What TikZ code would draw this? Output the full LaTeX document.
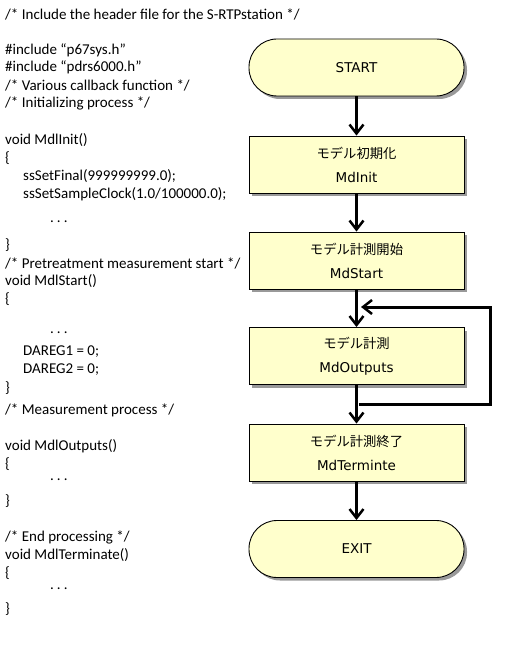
\documentclass[tikz,border=0pt]{standalone}
\usepackage{fontspec}
\setmainfont{Carlito}
\newfontfamily\jpfont{Noto Sans CJK JP}
\newfontfamily\lbfont{DejaVu Sans}
\usetikzlibrary{arrows.meta,shadows}
\definecolor{boxfill}{HTML}{FFFFCC}
\newcommand{\mydots}{.\kern3pt.\kern3pt.}
\tikzset{
  codeline/.style={anchor=west,inner sep=0pt,font=\fontsize{15}{17}\selectfont},
  procbox/.style={draw=black,line width=0.9pt,fill=boxfill,minimum width=215pt,minimum height=57pt,inner sep=0pt,
     drop shadow={shadow xshift=3pt,shadow yshift=-3pt,fill=black!40,opacity=1},align=center},
  termbox/.style={procbox,rounded corners=28pt,font=\lbfont\fontsize{13.5}{16}\selectfont},
  flow/.style={line width=3pt,-{Straight Barb[length=9pt,width=14pt,line width=2.5pt]}},
}
\newcommand{\jpl}[1]{{\jpfont\fontsize{13.3}{15}\selectfont #1}}
\newcommand{\ltl}[1]{{\lbfont\fontsize{13.5}{16}\selectfont #1}}
\begin{document}
\begin{tikzpicture}[x=1pt,y=-1pt]
\useasboundingbox (0,0) rectangle (525,647);
% code text
\node[codeline] (c1) at (5,14) {/* Include the header file for the S-RTPstation */};
\node[codeline] (c2) at (5,50) {\#include “p67sys.h”};
\node[codeline] (c3) at (5,67) {\#include “pdrs6000.h”};
\node[codeline] (c4) at (5,85) {/* Various callback function */};
\node[codeline] (c5) at (5,103) {/* Initializing process */};
\node[codeline] (c6) at (5,140) {void MdlInit()};
\node[codeline] (c7) at (5,158) {\{};
\node[codeline] (c8) at (23,176) {ssSetFinal(999999999.0);};
\node[codeline] (c9) at (23,194) {ssSetSampleClock(1.0/100000.0);};
\node[codeline] (c10) at (50,222) {\mydots};
\node[codeline] (c11) at (5,245) {\}};
\node[codeline] (c12) at (5,263) {/* Pretreatment measurement start */};
\node[codeline] (c13) at (5,281) {void MdlStart()};
\node[codeline] (c14) at (5,299) {\{};
\node[codeline] (c15) at (50,333) {\mydots};
\node[codeline] (c16) at (23,352) {DAREG1 = 0;};
\node[codeline] (c17) at (23,370) {DAREG2 = 0;};
\node[codeline] (c18) at (5,388) {\}};
\node[codeline] (c19) at (5,410) {/* Measurement process */};
\node[codeline] (c20) at (5,446) {void MdlOutputs()};
\node[codeline] (c21) at (5,464) {\{};
\node[codeline] (c22) at (50,480) {\mydots};
\node[codeline] (c23) at (5,501) {\}};
\node[codeline] (c24) at (5,537) {/* End processing */};
\node[codeline] (c25) at (5,555) {void MdlTerminate()};
\node[codeline] (c26) at (5,573) {\{};
\node[codeline] (c27) at (50,589) {\mydots};
\node[codeline] (c28) at (5,609) {\}};
% flowchart
\node[termbox] (start) at (356.5,67.5) {START};
\node[procbox] (init) at (356.5,164.5) {\jpl{モデル初期化}\\[12pt]\ltl{MdInit}};
\node[procbox] (mstart) at (356.5,260.5) {\jpl{モデル計測開始}\\[12pt]\ltl{MdStart}};
\node[procbox] (outp) at (356.5,356) {\jpl{モデル計測}\\[12pt]\ltl{MdOutputs}};
\node[procbox] (term) at (356.5,452.5) {\jpl{モデル計測終了}\\[12pt]\ltl{MdTerminte}};
\node[termbox] (exit) at (356.5,549) {EXIT};
\coordinate (lpA) at (359,404);
\coordinate (lpB) at (490,404);
\coordinate (lpC) at (490,307);
\coordinate (lpD) at (361,307);
\draw[flow] (start) -- (init);
\draw[flow] (init) -- (mstart);
\draw[flow] (mstart) -- (outp);
\draw[flow] (outp) -- (term);
\draw[flow] (term) -- (exit);
\draw[flow] (lpA) -- (lpB) -- (lpC) -- (lpD);
\end{tikzpicture}
\end{document}
